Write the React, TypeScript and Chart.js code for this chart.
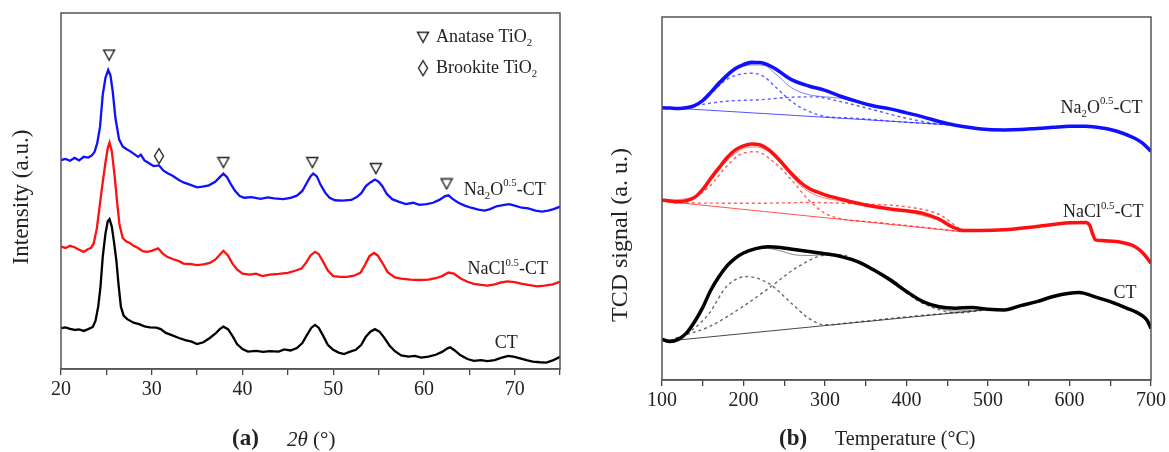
import React, { useEffect, useRef } from 'react';
import { Chart, registerables } from 'chart.js';
Chart.register(...registerables);

const FONT = '"Liberation Serif", "Times New Roman", serif';

// ---------- Panel (a): XRD patterns (2θ, offset intensity) ----------
const xrdNa2O: number[][] = [[20,58.7],[20.5,59.0],[21,58.5],[21.5,59.3],[22,58.6],[22.5,59.6],[23,59.4],[23.4,60.0],[23.7,61.0],[24.0,63.5],[24.3,68],[24.6,77],[24.9,81.8],[25.2,84.0],[25.45,82.5],[25.7,78],[26.0,70.5],[26.4,64.5],[26.8,62.5],[27.2,61.8],[27.6,61.2],[28,60.5],[28.5,59.6],[28.8,60.2],[29.2,58.6],[29.7,57.8],[30.2,57.0],[30.8,57.2],[31.3,55.7],[31.8,54.9],[32.3,54.3],[33,53.1],[33.5,52.4],[34.2,51.8],[35,51.0],[35.6,51.2],[36.3,51.6],[37,52.6],[37.5,53.9],[37.9,54.9],[38.3,53.9],[38.7,52.0],[39.2,50.0],[39.7,48.6],[40.2,48.1],[41,48.3],[42,47.8],[42.8,48.2],[43.5,47.9],[44.5,47.7],[45.3,48.1],[46,48.7],[46.6,50.0],[47.1,52.3],[47.5,54.1],[47.8,54.9],[48.2,54.1],[48.6,51.8],[49.1,49.6],[49.6,48.1],[50.2,47.4],[51,47.3],[52,47.5],[52.6,48.3],[53.1,49.4],[53.6,51.4],[54.1,52.4],[54.6,53.2],[55.0,52.6],[55.4,51.4],[55.9,49.2],[56.5,47.7],[57.2,47.0],[58,46.3],[58.8,46.7],[59.5,46.1],[60.3,46.3],[61,46.7],[61.7,47.5],[62.3,48.5],[62.7,48.8],[63.2,47.7],[63.8,46.7],[64.5,45.9],[65.2,45.3],[66,44.8],[66.7,44.5],[67.3,44.9],[68,45.7],[68.7,46.0],[69.4,46.3],[70,45.9],[70.8,45.3],[71.5,45.1],[72.3,44.5],[73,44.2],[73.7,44.5],[74.3,44.9],[75,45.6]];
const xrdNaCl: number[][] = [[20,34.4],[20.5,34.0],[21,34.6],[21.5,34.2],[22,33.5],[22.5,32.9],[23,33.7],[23.3,34.0],[23.6,35.2],[23.95,39.5],[24.3,46.5],[24.6,52.5],[24.9,58],[25.15,62],[25.35,63.6],[25.6,61.2],[25.9,54.5],[26.2,46.5],[26.45,40.5],[26.8,36.8],[27.2,35.8],[27.6,35.4],[28,34.6],[28.5,34.0],[29,33.1],[29.5,32.9],[30,33.2],[30.7,33.9],[31.2,32.5],[31.7,31.5],[32.3,30.9],[33,30.3],[33.5,29.6],[34.2,29.5],[35,29.2],[35.7,29.4],[36.4,29.8],[37,30.7],[37.5,32.1],[37.9,33.2],[38.4,31.9],[38.9,29.6],[39.4,28.0],[40,26.8],[40.8,26.5],[41.5,26.8],[42.2,26.1],[43,26.5],[44,26.7],[45,27.0],[45.8,27.6],[46.5,28.2],[47.0,29.8],[47.5,31.9],[48.0,32.9],[48.4,32.3],[48.9,30.1],[49.4,27.7],[50,26.1],[50.8,25.9],[51.5,25.9],[52.3,26.2],[53,27.0],[53.5,29.2],[54.0,31.7],[54.5,32.6],[54.9,31.9],[55.4,29.9],[56,27.2],[56.8,25.7],[57.5,25.4],[58.5,25.1],[59.5,25.0],[60.5,25.1],[61.3,25.5],[62,26.1],[62.7,27.1],[63.3,26.8],[64,25.5],[64.8,24.5],[65.5,23.9],[66.3,23.6],[67,23.4],[67.8,23.8],[68.5,24.3],[69.2,24.6],[70,24.4],[70.7,24.0],[71.5,23.6],[72.5,23.2],[73.3,23.4],[74.2,23.8],[75,24.5]];
const xrdCT: number[][] = [[20,11.5],[20.5,11.7],[21,11.3],[21.5,11.0],[22,11.1],[22.5,10.7],[23,11.2],[23.5,11.8],[23.8,13.5],[24.1,17.5],[24.35,23],[24.6,31.5],[24.9,38],[25.15,41.5],[25.35,42.1],[25.6,40],[25.85,35.5],[26.1,30.5],[26.35,23.5],[26.6,17.5],[26.9,15.0],[27.3,14.0],[28,13.0],[28.6,12.6],[29.2,12.0],[29.8,11.7],[30.5,11.6],[31.0,11.2],[31.5,10.2],[32.2,9.5],[33,8.7],[33.7,8.1],[34.4,7.7],[35,7.0],[35.7,7.5],[36.4,8.7],[37,9.9],[37.5,11.2],[37.9,11.9],[38.4,11.2],[38.9,9.3],[39.4,7.0],[40,5.6],[40.6,4.9],[41.5,5.1],[42.3,4.8],[43,5.0],[44,4.9],[44.6,5.5],[45.3,5.2],[46,5.9],[46.6,7.3],[47.1,9.5],[47.6,11.6],[48.0,12.4],[48.4,11.6],[48.9,9.3],[49.4,6.8],[50,5.4],[50.6,4.6],[51.2,4.2],[51.8,4.8],[52.5,5.4],[53.1,6.8],[53.6,9.1],[54.1,10.5],[54.6,11.2],[55.1,10.5],[55.6,8.9],[56.2,6.6],[56.8,5.0],[57.5,3.8],[58.3,3.5],[59,3.7],[59.7,3.2],[60.5,3.5],[61.3,4.0],[62,4.8],[62.6,5.8],[62.9,6.1],[63.4,5.2],[64,3.9],[64.8,2.8],[65.5,2.3],[66.3,2.5],[67,2.2],[67.8,2.5],[68.5,3.1],[69.3,3.7],[70,3.4],[70.6,3.0],[71.3,2.5],[72,2.1],[72.8,1.9],[73.5,1.8],[74.2,2.4],[75,3.4]];
const anataseMarks: number[][] = [[25.3,88.2],[37.9,58.0],[47.7,58.0],[54.7,56.3],[62.5,52.0]];
const brookiteMarks: number[][] = [[30.8,59.8]];

// ---------- Panel (b): TPD profiles with deconvolution ----------
const tpdNa2O: number[][] = [[100,75.0],[110,74.9],[120,74.8],[130,75.0],[140,75.6],[150,77.0],[160,79.3],[170,81.8],[180,84.0],[190,85.8],[200,86.9],[210,87.5],[220,87.5],[230,86.8],[240,85.6],[250,84.0],[260,82.6],[280,81.0],[300,79.8],[320,78.1],[340,76.7],[360,75.5],[380,74.7],[400,73.6],[420,72.5],[440,71.2],[460,70.2],[480,69.5],[500,69.0],[520,68.9],[540,69.0],[560,69.3],[580,69.6],[600,69.9],[620,69.9],[640,69.4],[660,68.4],[680,66.6],[690,65.2],[700,63.0]];
const tpdNa2OFit: number[][] = [[100,75.0],[130,75.1],[150,76.6],[170,81.0],[190,85.3],[210,86.8],[225,86.7],[240,84.2],[259,80.5],[280,78.6],[300,78.0],[320,77.6],[340,76.6],[380,74.6],[420,72.4],[460,70.2]];
const tpdNa2OBase: number[][] = [[100,75.1],[460,70.2]];
const tpdNa2OP1: number[][] = [[125,74.8],[140,75.8],[158,78.5],[178,82.6],[195,84.2],[210,84.5],[225,83.6],[239,80.8],[259,76.7],[280,74.0],[300,72.6],[330,72.2],[360,71.7],[400,71.0],[460,70.2]];
const tpdNa2OP2: number[][] = [[120,74.9],[140,75.6],[179,76.8],[219,77.2],[259,77.9],[287,78.0],[319,76.7],[360,74.4],[400,72.1],[441,70.5],[470,70.0]];

const tpdNaCl: number[][] = [[100,49.6],[110,49.3],[120,49.1],[130,49.4],[140,50.3],[150,52.5],[160,55.6],[170,58.5],[180,61.3],[190,63.4],[200,64.5],[210,65.0],[220,64.8],[230,63.6],[240,61.6],[250,59.1],[260,56.6],[270,54.4],[280,52.8],[300,51.0],[320,49.8],[340,48.7],[360,47.8],[380,47.1],[400,46.6],[420,45.9],[440,44.3],[455,42.3],[470,41.2],[490,41.2],[520,41.4],[560,42.3],[600,43.3],[620,43.4],[625,42.5],[628,40.5],[632,38.6],[640,38.4],[660,38.1],[680,36.8],[690,35.0],[700,32.2]];
const tpdNaClFit: number[][] = [[100,49.5],[140,50.5],[160,55.0],[180,60.5],[200,63.8],[215,64.2],[230,63.0],[250,58.5],[270,53.5],[290,50.8],[320,49.3],[360,47.7],[400,46.3],[440,44.0],[470,41.0]];
const tpdNaClBase: number[][] = [[100,49.3],[470,40.8]];
const tpdNaClP1: number[][] = [[120,49.0],[137,50.0],[158,53.3],[179,58.8],[195,62.0],[215,62.9],[239,59.7],[259,55.1],[280,49.6],[300,45.9],[320,44.4],[360,43.5],[420,42.1],[470,40.8]];
const tpdNaClP2: number[][] = [[100,49.3],[120,48.8],[220,48.7],[280,48.9],[340,48.5],[401,47.7],[441,45.5],[462,42.2],[470,41.0]];

const tpdCT: number[][] = [[100,11.2],[110,10.6],[120,11.2],[130,12.9],[140,16.0],[150,20.0],[160,24.8],[170,28.5],[180,31.5],[190,33.6],[200,35.0],[215,36.2],[230,36.7],[245,36.5],[260,36.0],[280,35.4],[300,34.8],[320,34.0],[340,32.6],[360,30.3],[380,27.6],[400,24.4],[420,21.6],[440,20.2],[460,19.8],[480,20.0],[500,19.5],[520,19.3],[540,20.5],[560,21.6],[580,23.0],[600,23.9],[612,24.1],[630,23.0],[650,21.6],[670,19.8],[688,17.9],[695,16.5],[700,14.2]];
const tpdCTFit: number[][] = [[100,11.0],[120,11.5],[140,16.8],[160,24.4],[180,31.0],[200,34.8],[225,36.3],[245,35.6],[260,34.6],[280,34.3],[300,34.5],[330,33.3],[360,30.0],[400,24.0],[430,20.5],[460,19.0],[480,19.1]];
const tpdCTBase: number[][] = [[110,10.8],[500,19.4]];
const tpdCTP1: number[][] = [[110,10.8],[137,13.8],[158,18.4],[179,25.7],[204,28.5],[231,26.6],[259,21.1],[280,17.0],[300,15.2],[340,16.0],[400,17.4],[460,18.6],[500,19.4]];
const tpdCTP2: number[][] = [[110,10.8],[122,11.9],[158,14.7],[199,20.2],[231,25.3],[267,31.2],[300,34.4],[320,34.5],[340,32.6],[381,27.5],[413,22.0],[441,19.3],[462,18.5],[500,19.4]];

// ---------- Text labels ----------
type Seg = { t: string; s?: 'sub' | 'sup' | 'it' };
const lblNa2O: Seg[] = [{ t: 'Na' }, { t: '2', s: 'sub' }, { t: 'O' }, { t: '0.5', s: 'sup' }, { t: '-CT' }];
const lblNaCl: Seg[] = [{ t: 'NaCl' }, { t: '0.5', s: 'sup' }, { t: '-CT' }];
const lblCT: Seg[] = [{ t: 'CT' }];
const xrdSeriesLabels = [{ segs: lblNa2O, x: 64.4, y: 50.3 }, { segs: lblNaCl, x: 64.8, y: 28.0 }, { segs: lblCT, x: 67.8, y: 7.2 }];
const tpdSeriesLabels = [{ segs: lblNa2O, x: 589, y: 74.9 }, { segs: lblNaCl, x: 592, y: 46.1 }, { segs: lblCT, x: 654, y: 23.9 }];
const legendAnatase: Seg[] = [{ t: 'Anatase TiO' }, { t: '2', s: 'sub' }];
const legendBrookite: Seg[] = [{ t: 'Brookite TiO' }, { t: '2', s: 'sub' }];
const legendPos = [{ x: 59.9, y: 93.2 }, { x: 59.9, y: 84.5 }];

function drawRich(ctx: CanvasRenderingContext2D, segs: Seg[], x: number, y: number, size: number) {
  let cx = x;
  ctx.textBaseline = 'middle';
  ctx.textAlign = 'left';
  for (const sg of segs) {
    const small = sg.s === 'sub' || sg.s === 'sup';
    const fs = small ? size * 0.6 : size;
    ctx.font = `${sg.s === 'it' ? 'italic ' : ''}${fs}px ${FONT}`;
    const dy = sg.s === 'sub' ? size * 0.32 : sg.s === 'sup' ? -size * 0.36 : 0;
    ctx.fillText(sg.t, cx, y + dy);
    cx += ctx.measureText(sg.t).width;
  }
}

function makeTriangle(): HTMLCanvasElement {
  const c = document.createElement('canvas');
  c.width = 14; c.height = 13;
  const g = c.getContext('2d')!;
  g.strokeStyle = '#222'; g.lineWidth = 1.4; g.fillStyle = '#fff';
  g.beginPath(); g.moveTo(1.5, 1.5); g.lineTo(12.5, 1.5); g.lineTo(7, 11.5); g.closePath(); g.fill(); g.stroke();
  return c;
}
function makeDiamond(): HTMLCanvasElement {
  const c = document.createElement('canvas');
  c.width = 12; c.height = 18;
  const g = c.getContext('2d')!;
  g.strokeStyle = '#222'; g.lineWidth = 1.4; g.fillStyle = '#fff';
  g.beginPath(); g.moveTo(6, 1.5); g.lineTo(10.5, 9); g.lineTo(6, 16.5); g.lineTo(1.5, 9); g.closePath(); g.fill(); g.stroke();
  return c;
}

const pts = (a: number[][]) => a.map(([x, y]) => ({ x, y }));

export default function App() {
  const refA = useRef<HTMLCanvasElement>(null);
  const refB = useRef<HTMLCanvasElement>(null);

  useEffect(() => {
    const tri = makeTriangle();
    const dia = makeDiamond();

    const xAxis = (step: number, labelEvery: number, min: number, max: number, height: number) => ({
      type: 'linear' as const,
      min, max,
      afterFit: (s: any) => { s.height = height; },
      ticks: {
        stepSize: step, autoSkip: false, maxRotation: 0, color: '#222', padding: 3,
        font: { family: FONT, size: 20 },
        callback: (v: any) => (Number(v) % labelEvery === 0 ? String(v) : ''),
      },
      grid: { display: true, drawOnChartArea: false, drawTicks: true, tickLength: 6, color: '#444', lineWidth: 1.3 },
      border: { display: true, color: '#555', width: 1.5 },
    });

    const decorA = {
      id: 'decorA',
      afterDraw(chart: any) {
        const { ctx, chartArea: ca, scales } = chart;
        const x = scales.x, y = scales.y;
        ctx.save();
        ctx.strokeStyle = '#555'; ctx.lineWidth = 1.5;
        ctx.strokeRect(ca.left, ca.top, ca.right - ca.left, ca.bottom - ca.top);
        ctx.fillStyle = '#222';
        for (const l of xrdSeriesLabels) drawRich(ctx, l.segs, x.getPixelForValue(l.x), y.getPixelForValue(l.y), 18);
        const leg = [legendAnatase, legendBrookite];
        legendPos.forEach((p, i) => {
          const px = x.getPixelForValue(p.x), py = y.getPixelForValue(p.y);
          const img = i === 0 ? tri : dia;
          ctx.drawImage(img, px - img.width / 2, py - img.height / 2);
          drawRich(ctx, leg[i], px + 13, py, 18);
        });
        ctx.save();
        ctx.translate(22, 197); ctx.rotate(-Math.PI / 2);
        ctx.font = `23px ${FONT}`; ctx.textAlign = 'center'; ctx.textBaseline = 'middle';
        ctx.fillText('Intensity (a.u.)', 0, 0);
        ctx.restore();
        ctx.textBaseline = 'middle'; ctx.textAlign = 'left';
        ctx.font = `bold 23px ${FONT}`;
        ctx.fillText('(a)', 232, 439);
        ctx.font = `italic 21px ${FONT}`;
        ctx.fillText('2θ', 287, 440);
        const w = ctx.measureText('2θ ').width;
        ctx.font = `21px ${FONT}`;
        ctx.fillText('(°)', 287 + w, 440);
        ctx.restore();
      },
    };

    const lineDs = (data: number[][], color: string, width: number, extra: any = {}) => ({
      data: pts(data), borderColor: color, borderWidth: width, pointRadius: 0, fill: false, tension: 0, ...extra,
    });

    const chartA = new Chart(refA.current!, {
      type: 'line',
      data: {
        datasets: [
          { data: pts(anataseMarks), showLine: false, pointStyle: tri, pointRadius: 7, borderColor: '#222', backgroundColor: '#fff' } as any,
          { data: pts(brookiteMarks), showLine: false, pointStyle: dia, pointRadius: 8, borderColor: '#222', backgroundColor: '#fff' } as any,
          lineDs(xrdNa2O, '#1010ff', 2.3),
          lineDs(xrdNaCl, '#ff1010', 2.3),
          lineDs(xrdCT, '#000000', 2.3),
        ],
      },
      options: {
        responsive: false, animation: false, devicePixelRatio: 1,
        layout: { padding: { left: 61, right: 30, top: 13, bottom: 0 } },
        plugins: { legend: { display: false }, tooltip: { enabled: false } },
        scales: {
          x: xAxis(5, 10, 20, 75, 83) as any,
          y: { type: 'linear', display: false, min: 0, max: 100 },
        },
      },
      plugins: [decorA],
    });

    const decorB = {
      id: 'decorB',
      afterDraw(chart: any) {
        const { ctx, chartArea: ca, scales } = chart;
        const x = scales.x, y = scales.y;
        ctx.save();
        ctx.strokeStyle = '#555'; ctx.lineWidth = 1.5;
        ctx.strokeRect(ca.left, ca.top, ca.right - ca.left, ca.bottom - ca.top);
        ctx.fillStyle = '#222';
        for (const l of tpdSeriesLabels) drawRich(ctx, l.segs, x.getPixelForValue(l.x), y.getPixelForValue(l.y), 18);
        ctx.save();
        ctx.translate(621 - 585, 235); ctx.rotate(-Math.PI / 2);
        ctx.font = `24px ${FONT}`; ctx.textAlign = 'center'; ctx.textBaseline = 'middle';
        ctx.fillText('TCD signal (a. u.)', 0, 0);
        ctx.restore();
        ctx.textBaseline = 'middle'; ctx.textAlign = 'left';
        ctx.font = `bold 23px ${FONT}`;
        ctx.fillText('(b)', 779 - 585, 439);
        ctx.font = `20px ${FONT}`;
        ctx.fillText('Temperature (°C)', 835 - 585, 440);
        ctx.restore();
      },
    };

    const comp = (data: number[][], color: string) => lineDs(data, color, 1.4, { borderDash: [3, 3], cubicInterpolationMode: 'monotone' });
    const thin = (data: number[][], color: string) => lineDs(data, color, 1, { cubicInterpolationMode: 'monotone' });
    const thick = (data: number[][], color: string) => lineDs(data, color, 3.5, { cubicInterpolationMode: 'monotone' });

    const chartB = new Chart(refB.current!, {
      type: 'line',
      data: {
        datasets: [
          thick(tpdNa2O, '#1010ff'),
          thick(tpdNaCl, '#ff1010'),
          thick(tpdCT, '#000000'),
          thin(tpdNa2OFit, 'rgba(40,40,255,0.6)'),
          thin(tpdNa2OBase, 'rgba(40,40,255,0.8)'),
          comp(tpdNa2OP1, 'rgba(40,40,255,0.75)'),
          comp(tpdNa2OP2, 'rgba(40,40,255,0.75)'),
          thin(tpdNaClFit, 'rgba(255,40,40,0.6)'),
          thin(tpdNaClBase, 'rgba(255,40,40,0.8)'),
          comp(tpdNaClP1, 'rgba(255,40,40,0.75)'),
          comp(tpdNaClP2, 'rgba(255,40,40,0.75)'),
          thin(tpdCTFit, 'rgba(60,60,60,0.6)'),
          thin(tpdCTBase, 'rgba(40,40,40,0.85)'),
          comp(tpdCTP1, 'rgba(70,70,70,0.8)'),
          comp(tpdCTP2, 'rgba(70,70,70,0.8)'),
        ],
      },
      options: {
        responsive: false, animation: false, devicePixelRatio: 1,
        layout: { padding: { left: 77, right: 13, top: 17, bottom: 0 } },
        plugins: { legend: { display: false }, tooltip: { enabled: false } },
        scales: {
          x: xAxis(50, 100, 100, 700, 72) as any,
          y: { type: 'linear', display: false, min: 0, max: 100 },
        },
      },
      plugins: [decorB],
    });

    return () => { chartA.destroy(); chartB.destroy(); };
  }, []);

  return (
    <div style={{ position: 'absolute', left: 0, top: 0, width: 1169, height: 452, background: '#fff' }}>
      <canvas ref={refA} width={590} height={452} style={{ position: 'absolute', left: 0, top: 0, width: 590, height: 452 }} />
      <canvas ref={refB} width={584} height={452} style={{ position: 'absolute', left: 585, top: 0, width: 584, height: 452 }} />
    </div>
  );
}
